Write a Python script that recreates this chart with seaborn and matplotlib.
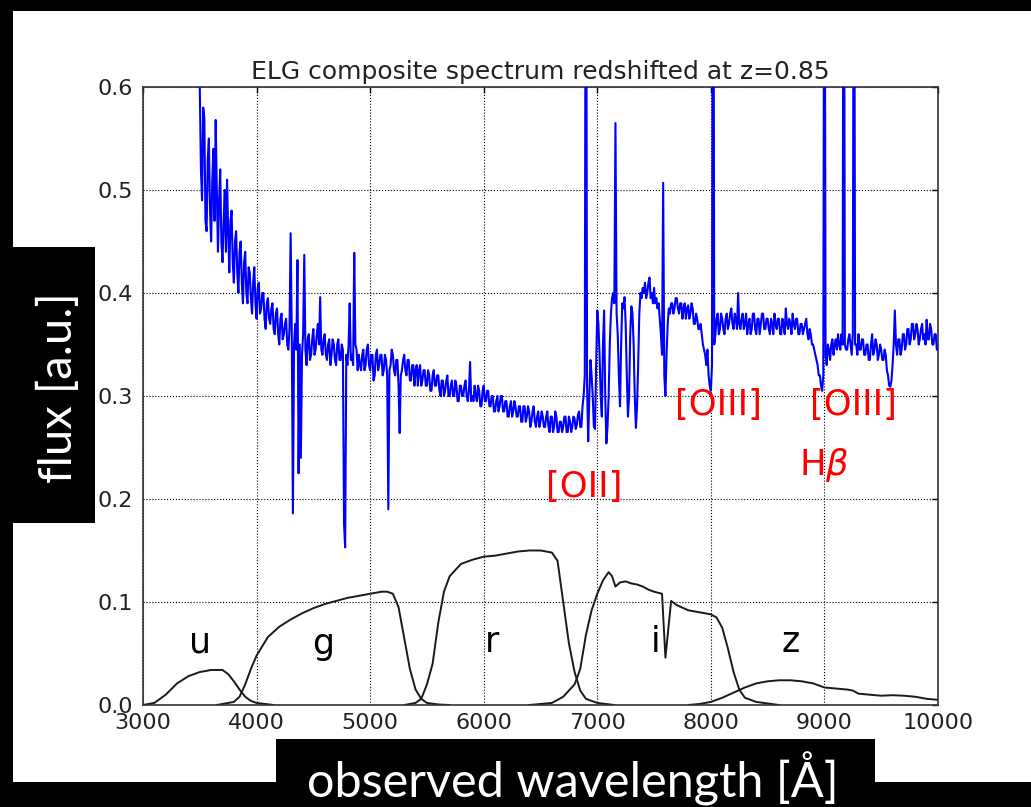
import numpy as np
import matplotlib
matplotlib.use("Agg")
import matplotlib.pyplot as plt
from matplotlib.patches import Rectangle
import seaborn as sns
import pandas as pd

# ---------------- data ----------------
# composite spectrum, sampled every 10 A from 3500 A (one row = 200 A)
spec_start = 3500
spec_step = 10
spec_flux = [
    0.60, 0.52, 0.49, 0.58, 0.57, 0.47, 0.46, 0.53, 0.55, 0.48, 0.45, 0.51, 0.54, 0.47, 0.568, 0.50, 0.44, 0.49, 0.52, 0.45,   # 3500
    0.43, 0.47, 0.50, 0.44, 0.51, 0.46, 0.42, 0.47, 0.48, 0.43, 0.41, 0.45, 0.46, 0.42, 0.40, 0.44, 0.45, 0.41, 0.39, 0.43,    # 3700
    0.44, 0.40, 0.39, 0.425, 0.42, 0.395, 0.38, 0.41, 0.425, 0.39, 0.375, 0.405, 0.41, 0.38, 0.385, 0.40, 0.40, 0.375, 0.365, 0.39,  # 3900
    0.395, 0.375, 0.37, 0.385, 0.39, 0.365, 0.36, 0.38, 0.385, 0.36, 0.35, 0.375, 0.38, 0.355, 0.36, 0.37, 0.375, 0.35, 0.345, 0.365,  # 4100
    0.458, 0.36, 0.186, 0.35, 0.37, 0.345, 0.432, 0.225, 0.35, 0.24, 0.34, 0.36, 0.437, 0.345, 0.33, 0.355, 0.36, 0.335, 0.34, 0.355,  # 4300
    0.365, 0.34, 0.345, 0.36, 0.37, 0.35, 0.396, 0.345, 0.34, 0.355, 0.36, 0.34, 0.335, 0.35, 0.355, 0.33, 0.34, 0.355, 0.35, 0.335,   # 4500
    0.33, 0.35, 0.355, 0.335, 0.335, 0.35, 0.345, 0.176, 0.153, 0.34, 0.33, 0.35, 0.39, 0.335, 0.34, 0.33, 0.439, 0.35, 0.345, 0.325,  # 4700
    0.34, 0.33, 0.325, 0.34, 0.345, 0.325, 0.33, 0.345, 0.35, 0.33, 0.325, 0.34, 0.34, 0.315, 0.32, 0.34, 0.345, 0.325, 0.33, 0.34,    # 4900
    0.34, 0.32, 0.325, 0.34, 0.335, 0.32, 0.19, 0.325, 0.33, 0.345, 0.34, 0.325, 0.32, 0.335, 0.335, 0.31, 0.264, 0.32, 0.325, 0.335,  # 5100
    0.34, 0.325, 0.32, 0.335, 0.335, 0.315, 0.315, 0.33, 0.33, 0.31, 0.325, 0.33, 0.31, 0.325, 0.33, 0.31, 0.315, 0.325, 0.325, 0.31,  # 5300
    0.31, 0.325, 0.32, 0.305, 0.305, 0.32, 0.325, 0.31, 0.31, 0.32, 0.32, 0.305, 0.30, 0.315, 0.315, 0.30, 0.305, 0.315, 0.32, 0.30,   # 5500
    0.30, 0.31, 0.315, 0.30, 0.30, 0.315, 0.31, 0.295, 0.295, 0.31, 0.31, 0.30, 0.30, 0.31, 0.315, 0.30, 0.295, 0.305, 0.333, 0.295,  # 5700
    0.30, 0.295, 0.31, 0.30, 0.295, 0.31, 0.305, 0.29, 0.29, 0.305, 0.31, 0.295, 0.295, 0.305, 0.305, 0.29, 0.29, 0.30, 0.30, 0.285,  # 5900
    0.285, 0.295, 0.30, 0.285, 0.29, 0.30, 0.30, 0.285, 0.285, 0.295, 0.295, 0.28, 0.28, 0.29, 0.295, 0.28, 0.285, 0.295, 0.29, 0.28,  # 6100
    0.28, 0.29, 0.29, 0.275, 0.275, 0.29, 0.29, 0.275, 0.28, 0.29, 0.285, 0.27, 0.275, 0.285, 0.29, 0.275, 0.27, 0.28, 0.285, 0.27,   # 6300
    0.275, 0.285, 0.28, 0.27, 0.27, 0.28, 0.285, 0.27, 0.265, 0.28, 0.28, 0.265, 0.27, 0.285, 0.28, 0.265, 0.265, 0.275, 0.275, 0.265,  # 6500
    0.27, 0.28, 0.28, 0.265, 0.265, 0.28, 0.275, 0.265, 0.27, 0.28, 0.278, 0.268, 0.272, 0.282, 0.285, 0.27, 0.27, 0.29, 0.30, 0.32,  # 6700
    0.95, 0.31, 0.256, 0.30, 0.335, 0.32, 0.30, 0.27, 0.268, 0.33, 0.383, 0.37, 0.34, 0.30, 0.28, 0.35, 0.383, 0.30, 0.254, 0.27,     # 6900
    0.30, 0.35, 0.38, 0.395, 0.40, 0.39, 0.565, 0.38, 0.36, 0.32, 0.29, 0.35, 0.39, 0.385, 0.396, 0.37, 0.32, 0.28, 0.30, 0.36,       # 7100
    0.387, 0.38, 0.35, 0.30, 0.269, 0.29, 0.33, 0.38, 0.40, 0.395, 0.405, 0.40, 0.41, 0.395, 0.40, 0.41, 0.415, 0.395, 0.40, 0.39,     # 7300
    0.405, 0.39, 0.395, 0.385, 0.39, 0.375, 0.36, 0.34, 0.507, 0.32, 0.30, 0.34, 0.37, 0.385, 0.38, 0.39, 0.39, 0.38, 0.385, 0.395,   # 7500
    0.395, 0.385, 0.38, 0.39, 0.39, 0.375, 0.385, 0.39, 0.375, 0.385, 0.388, 0.375, 0.38, 0.39, 0.385, 0.37, 0.37, 0.38, 0.375, 0.365,  # 7700
    0.365, 0.37, 0.36, 0.35, 0.345, 0.34, 0.33, 0.345, 0.32, 0.31, 0.305, 0.33, 0.95, 0.35, 0.36, 0.375, 0.38, 0.36, 0.365, 0.38,     # 7900
    0.375, 0.365, 0.36, 0.375, 0.38, 0.365, 0.37, 0.38, 0.385, 0.37, 0.365, 0.38, 0.375, 0.365, 0.40, 0.37, 0.365, 0.375, 0.38, 0.365,  # 8100
    0.37, 0.38, 0.36, 0.37, 0.375, 0.36, 0.365, 0.38, 0.38, 0.365, 0.36, 0.375, 0.375, 0.36, 0.37, 0.38, 0.38, 0.365, 0.365, 0.375,   # 8300
    0.375, 0.365, 0.36, 0.375, 0.37, 0.36, 0.38, 0.37, 0.365, 0.375, 0.375, 0.36, 0.36, 0.375, 0.37, 0.36, 0.385, 0.37, 0.365, 0.375,  # 8500
    0.37, 0.36, 0.38, 0.37, 0.365, 0.375, 0.375, 0.36, 0.36, 0.37, 0.37, 0.36, 0.365, 0.37, 0.375, 0.36, 0.355, 0.365, 0.36, 0.35,    # 8700
    0.35, 0.345, 0.34, 0.335, 0.33, 0.32, 0.32, 0.31, 0.305, 0.32, 0.95, 0.34, 0.33, 0.35, 0.345, 0.335, 0.35, 0.355, 0.34, 0.35,     # 8900
    0.355, 0.345, 0.36, 0.35, 0.345, 0.36, 0.35, 0.95, 0.35, 0.345, 0.345, 0.355, 0.36, 0.35, 0.34, 0.36, 0.95, 0.35, 0.35, 0.34,     # 9100
    0.36, 0.345, 0.345, 0.355, 0.355, 0.34, 0.34, 0.35, 0.35, 0.335, 0.335, 0.35, 0.36, 0.34, 0.345, 0.355, 0.35, 0.335, 0.34, 0.35,   # 9300
    0.345, 0.335, 0.335, 0.345, 0.34, 0.325, 0.32, 0.31, 0.309, 0.315, 0.33, 0.35, 0.383, 0.35, 0.34, 0.355, 0.355, 0.34, 0.345, 0.36,  # 9500
    0.36, 0.345, 0.35, 0.365, 0.365, 0.35, 0.355, 0.37, 0.37, 0.355, 0.36, 0.37, 0.365, 0.35, 0.355, 0.365, 0.37, 0.355, 0.36, 0.35,  # 9700
    0.374, 0.355, 0.355, 0.37, 0.365, 0.35, 0.35, 0.36, 0.36, 0.345, 0.345,                                                          # 9900
]
spec_wave = spec_start + spec_step * np.arange(len(spec_flux))

# SDSS filter transmission curves
u_wave = [3000, 3100, 3200, 3300, 3400, 3500, 3600, 3700, 3750, 3800, 3850, 3900, 3950, 4000, 4150]
u_trans = [0.0, 0.002, 0.010, 0.021, 0.028, 0.032, 0.034, 0.034, 0.030, 0.023, 0.015, 0.008, 0.004, 0.002, 0.0]

g_wave = [3650, 3800, 3850, 3900, 3950, 4000, 4100, 4200, 4300, 4400, 4500, 4600, 4700, 4800,
          4900, 5000, 5100, 5150, 5200, 5250, 5300, 5350, 5400, 5450, 5500, 5600, 5700]
g_trans = [0.0, 0.003, 0.008, 0.020, 0.035, 0.048, 0.066, 0.076, 0.083, 0.089, 0.094, 0.098, 0.101, 0.104,
           0.106, 0.108, 0.110, 0.110, 0.108, 0.095, 0.065, 0.035, 0.015, 0.006, 0.002, 0.0005, 0.0]

r_wave = [5300, 5400, 5450, 5500, 5550, 5600, 5650, 5700, 5800, 5900, 6000, 6100, 6200, 6300, 6400,
          6500, 6600, 6650, 6700, 6750, 6800, 6850, 6900, 7000, 7150]
r_trans = [0.0, 0.002, 0.006, 0.020, 0.040, 0.080, 0.110, 0.125, 0.137, 0.141, 0.144, 0.145, 0.147, 0.149, 0.150,
           0.150, 0.148, 0.140, 0.100, 0.060, 0.032, 0.014, 0.006, 0.002, 0.0]

i_wave = [6400, 6600, 6700, 6800, 6850, 6900, 6950, 7000, 7050, 7100, 7130, 7160, 7200, 7250, 7300, 7350,
          7400, 7450, 7500, 7570, 7600, 7650, 7700, 7800, 7900, 8000, 8050, 8100, 8150, 8200, 8250, 8300,
          8400, 8600]
i_trans = [0.0, 0.002, 0.008, 0.020, 0.035, 0.068, 0.092, 0.108, 0.121, 0.129, 0.125, 0.115, 0.119, 0.120, 0.118, 0.117,
           0.115, 0.112, 0.110, 0.108, 0.046, 0.101, 0.097, 0.092, 0.090, 0.088, 0.085, 0.075, 0.055, 0.032, 0.015, 0.007,
           0.003, 0.0]

z_wave = [7800, 7900, 8000, 8100, 8200, 8300, 8400, 8500, 8600, 8700, 8800, 8900, 9000, 9100, 9200, 9250,
          9300, 9400, 9500, 9600, 9700, 9800, 9900, 10000]
z_trans = [0.0, 0.001, 0.003, 0.007, 0.012, 0.017, 0.021, 0.023, 0.024, 0.024, 0.023, 0.021, 0.017, 0.016, 0.015, 0.014,
           0.011, 0.010, 0.009, 0.0095, 0.009, 0.008, 0.006, 0.005]

filter_names = ["u", "g", "r", "i", "z"]
filter_label_x = [3500, 4590, 6075, 7510, 8700]
filter_label_y = [0.061, 0.059, 0.061, 0.061, 0.061]

line_names = ["[OII]", "[OIII]", "[OIII]", r"H$\beta$"]
line_label_x = [6883, 8067, 9255, 9000]
line_label_y = [0.212, 0.291, 0.291, 0.233]

x_ticks = [3000, 4000, 5000, 6000, 7000, 8000, 9000, 10000]
y_ticks = [0.0, 0.1, 0.2, 0.3, 0.4, 0.5, 0.6]

# ---------------- figure ----------------
sns.set_theme(style="white")
plt.rcParams["font.family"] = ["DejaVu Sans"]
plt.rcParams["mathtext.fontset"] = "dejavusans"

W, H = 1031, 807
fig = plt.figure(figsize=(W / 100, H / 100), dpi=100, facecolor="black")

# white page behind the plot
fig.add_artist(Rectangle((13 / W, (H - 782) / H), (W - 13) / W, (782 - 11) / H,
                         transform=fig.transFigure, facecolor="white", edgecolor="none", zorder=-10))

ax = fig.add_axes([143 / W, (H - 705) / H, (938 - 143) / W, (705 - 87) / H])
ax.set_facecolor("white")

spec_df = pd.DataFrame({"wave": spec_wave, "flux": spec_flux})
sns.lineplot(data=spec_df, x="wave", y="flux", ax=ax, color="blue", lw=1.5,
             estimator=None, sort=False, zorder=3)

for fw, ft in [(u_wave, u_trans), (g_wave, g_trans), (r_wave, r_trans), (i_wave, i_trans), (z_wave, z_trans)]:
    sns.lineplot(x=fw, y=ft, ax=ax, color="#1a1a1a", lw=1.4, estimator=None, sort=False, zorder=2)

for name, lx, ly in zip(filter_names, filter_label_x, filter_label_y):
    ax.text(lx, ly, name, fontsize=25, ha="center", va="center", color="black")

for name, lx, ly in zip(line_names, line_label_x, line_label_y):
    ax.text(lx, ly, name, fontsize=25.5, ha="center", va="center", color="red", zorder=4)

ax.set_xlim(3000, 10000)
ax.set_ylim(0, 0.6)
ax.set_xticks(x_ticks)
ax.set_yticks(y_ticks)
ax.set_xticklabels([str(t) for t in x_ticks])
ax.set_yticklabels([f"{t:.1f}" for t in y_ticks])
ax.tick_params(direction="in", length=4, width=1, top=True, right=True,
               labelsize=16, colors="black", labelcolor="#222222")
ax.tick_params(axis="y", pad=7)
ax.tick_params(axis="x", pad=6)
ax.grid(True, color="black", linestyle=":", lw=0.8)
for s in ax.spines.values():
    s.set_color("#333333")
    s.set_linewidth(1.2)
ax.set_xlabel("")
ax.set_ylabel("")
ax.set_title("ELG composite spectrum redshifted at z=0.85", fontsize=18, color="#222222", pad=5.8)

# black label boxes with white text
fig.add_artist(Rectangle((0, (H - 523) / H), 95 / W, (523 - 247) / H,
                         transform=fig.transFigure, facecolor="black", edgecolor="none", zorder=5))
fig.add_artist(Rectangle((276 / W, 0), (875 - 276) / W, (H - 739) / H,
                         transform=fig.transFigure, facecolor="black", edgecolor="none", zorder=5))
fig.text(58 / W, (H - 388) / H, "flux [a.u.]", rotation=90, ha="center", va="center",
         color="white", fontsize=34, family=["Lato", "DejaVu Sans"], zorder=6)
fig.text(573 / W, (H - 797) / H, "observed wavelength [Å]", ha="center", va="baseline",
         color="white", fontsize=35, family=["Lato", "DejaVu Sans"], zorder=6)

fig.savefig("out.png", dpi=100, facecolor="black")
